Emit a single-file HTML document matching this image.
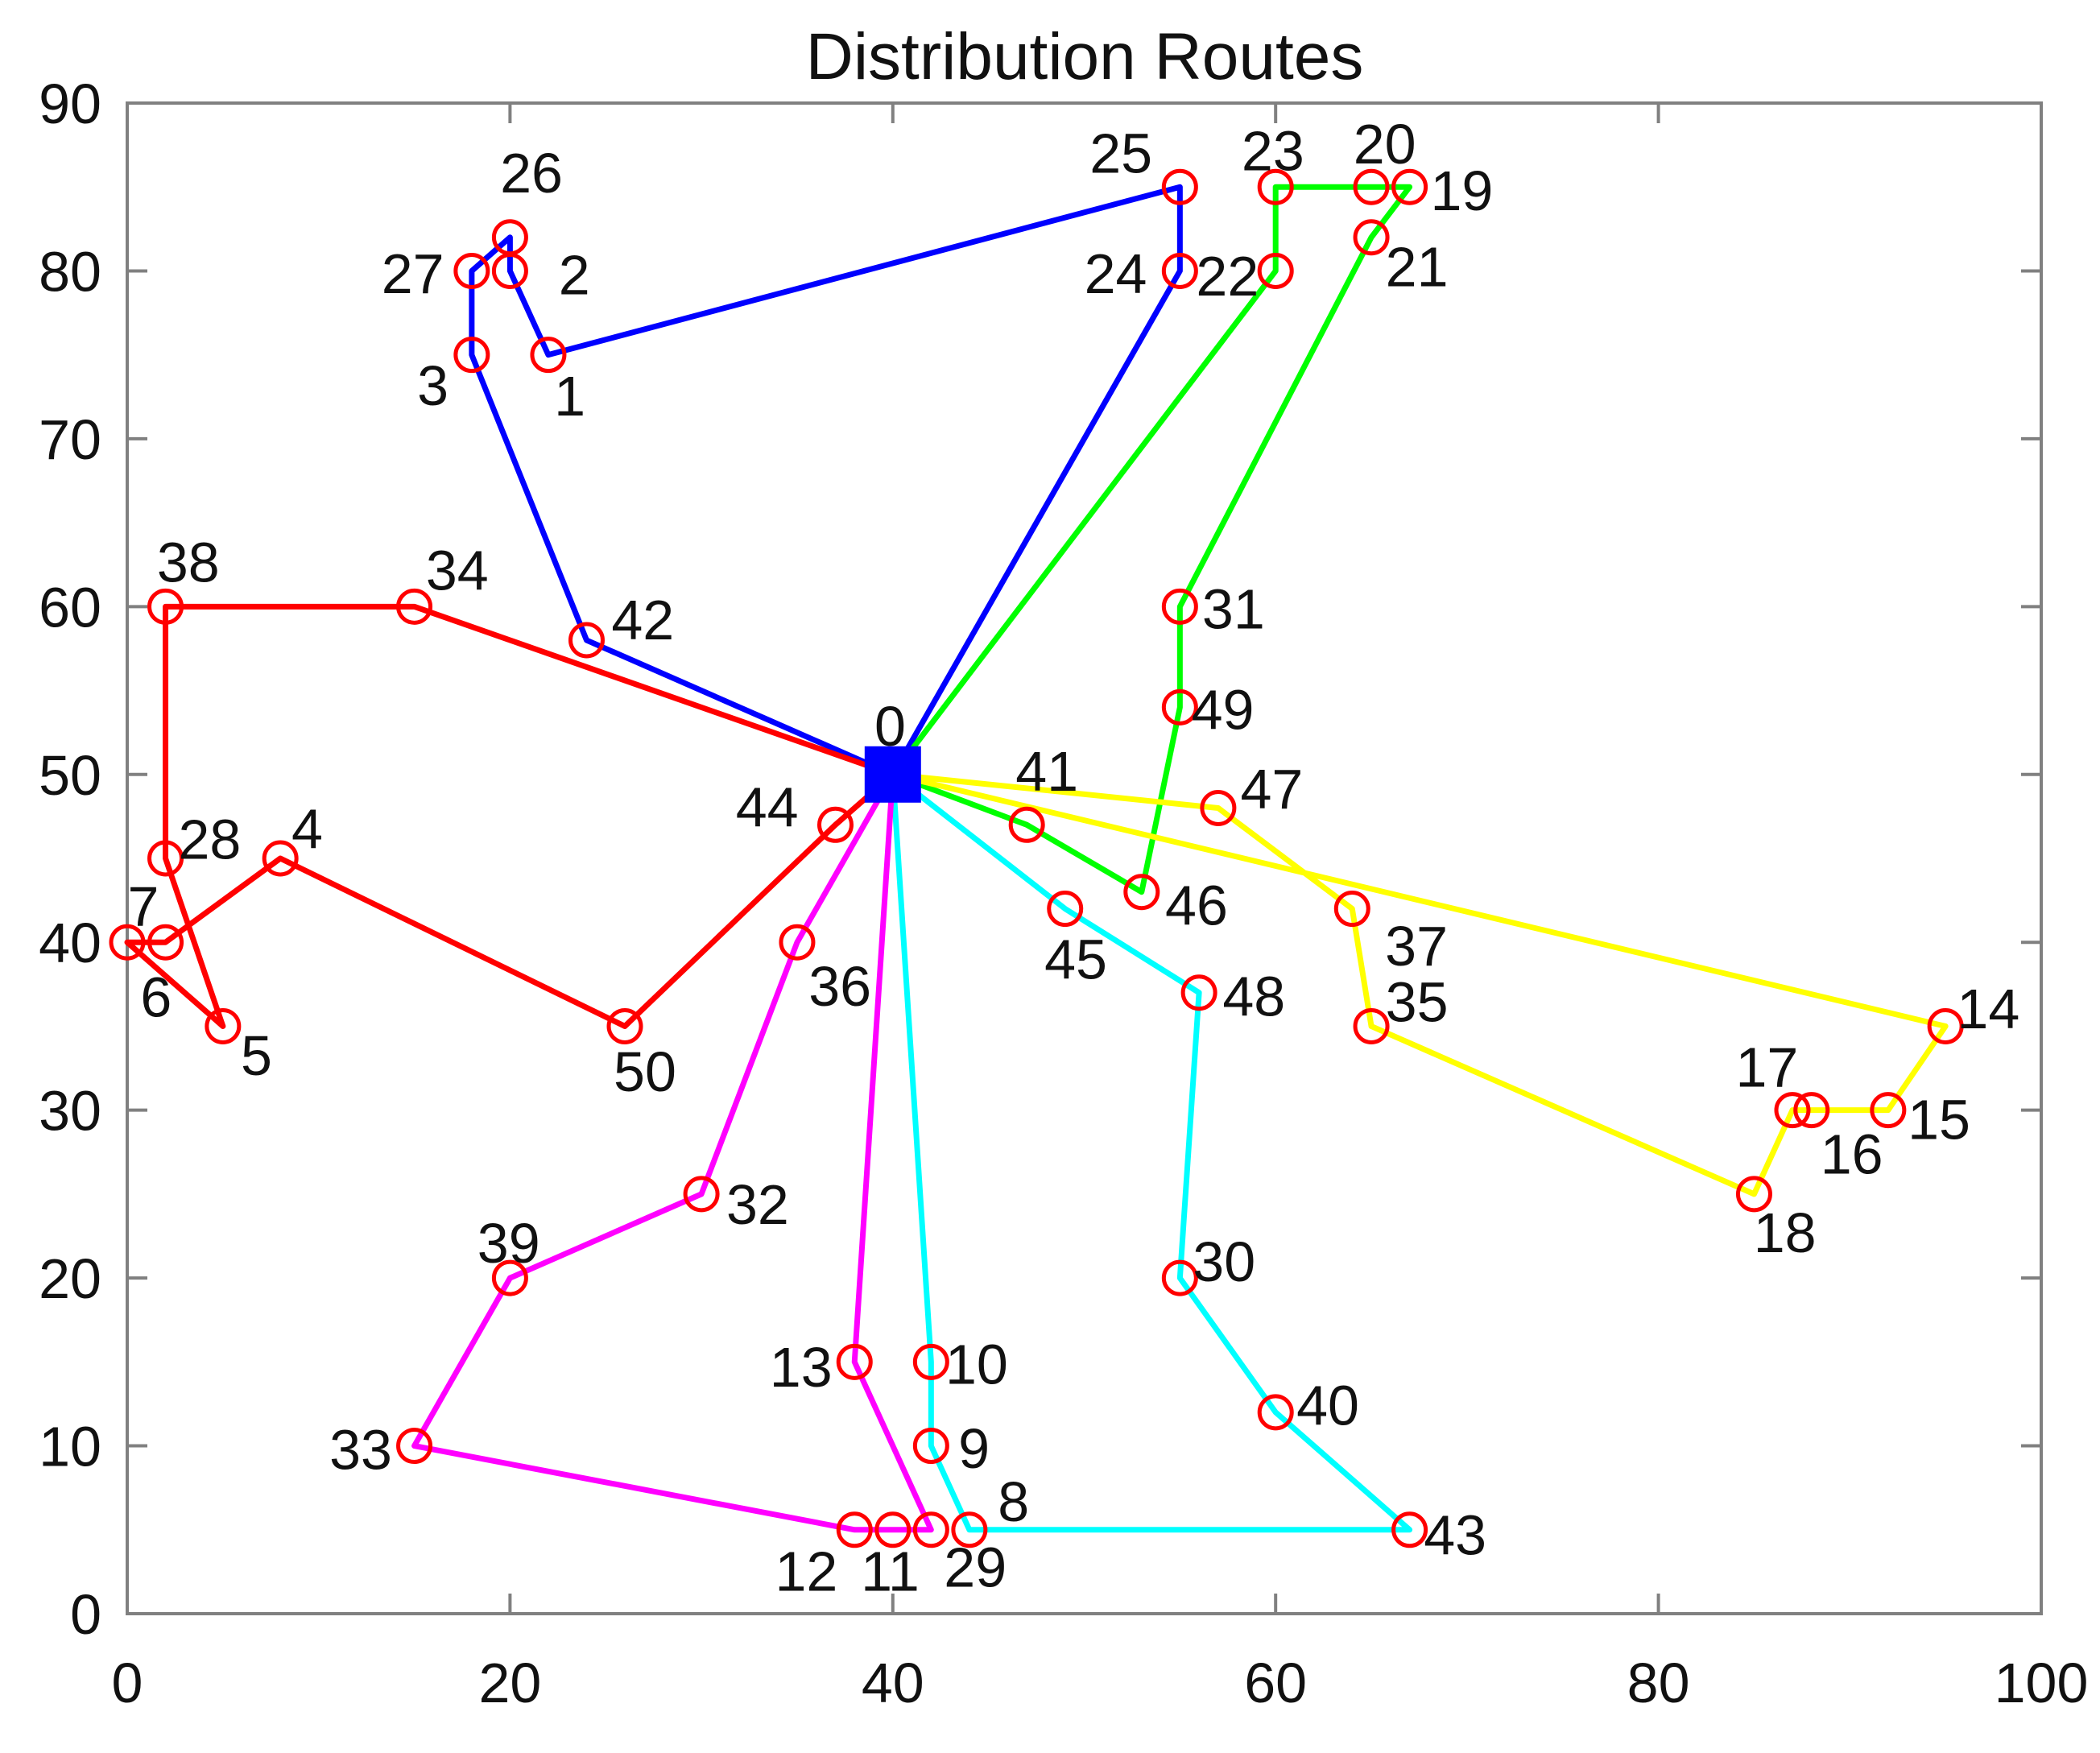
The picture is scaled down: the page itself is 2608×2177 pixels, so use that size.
<!DOCTYPE html>
<html><head><meta charset="utf-8"><style>
html,body{margin:0;padding:0;background:#fff;}
svg{display:block;font-family:"Liberation Sans",Arial,sans-serif;}
</style></head><body>
<svg id="chart" width="2608" height="2177" viewBox="0 0 2608 2177" xmlns="http://www.w3.org/2000/svg">
<rect width="2608" height="2177" fill="#fff"/>
<text x="1347" y="98" font-size="82" text-anchor="middle" fill="#111">Distribution Routes</text>
<g id="axes"></g><g id="routes"></g><g id="nodes"></g>
</svg>
<script>
const nodeIds=[0,1,2,3,4,5,6,7,8,9,10,11,12,13,14,15,16,17,18,19,20,21,22,23,24,25,26,27,28,29,30,31,32,33,34,35,36,37,38,39,40,41,42,43,44,45,46,47,48,49,50];
const nodeX=[40,22,20,18,8,5,2,0,44,42,42,40,38,38,95,92,88,87,85,67,65,65,60,60,55,55,20,18,2,42,55,55,30,15,15,65,35,64,2,20,60,47,24,67,37,49,53,57,56,55,26];
const nodeY=[50,75,80,75,45,35,40,40,5,10,15,5,5,15,35,30,30,30,25,85,85,82,80,85,80,85,82,80,45,5,20,60,25,10,60,35,40,42,60,20,12,47,58,5,47,42,43,48,37,54,35];
const routeBlue=[0,42,3,27,26,2,1,25,24,0];
const routeRed=[0,34,38,28,5,7,6,4,50,44,0];
const routeGreen=[0,22,23,20,19,21,31,49,46,41,0];
const routeYellow=[0,47,37,35,18,17,16,15,14,0];
const routeCyan=[0,45,48,30,40,43,8,9,10,0];
const routeMagenta=[0,36,32,39,33,12,11,29,13,0];
const xTicks=[0,20,40,60,80,100];
const yTicks=[0,10,20,30,40,50,60,70,80,90];
// label offsets (style only, display px)
const labOff=[[-2,-36],[16,31],[48,3],[-29,23],[20,-22],[25,22],[-7,41],[12,-27],[33,-21],[32,2],[34,2],[-2,31],[-36,31],[-40,4],[32,-13],[38,7],[30,33],[-19,-32],[23,29],[39,3],[10,-32],[34,22],[-36,4],[-2,-27],[-48,2],[-44,-25],[16,-48],[-44,2],[33,-14],[33,28],[33,-12],[40,2],[42,8],[-40,3],[32,-27],[34,-18],[32,33],[48,28],[17,-33],[-1,-26],[39,-5],[15,-40],[42,-15],[34,4],[-51,-13],[8,38],[41,10],[40,-14],[41,3],[32,2],[15,34]];

const L=158,R=2535,T=128,B=2004;
const sx=v=>L+(v-0)/(100-0)*(R-L);
const sy=v=>B-(v-0)/(90-0)*(B-T);
const NS="http://www.w3.org/2000/svg";
function mk(tag,attrs,parent){const e=document.createElementNS(NS,tag);for(const k in attrs)e.setAttribute(k,attrs[k]);parent.appendChild(e);return e;}
const axes=document.getElementById('axes');
const frame=mk('rect',{x:L,y:T,width:R-L,height:B-T,fill:'none',stroke:'#808080','stroke-width':4},axes);


xTicks.forEach(t=>{
  const x=sx(t);
  const tk=mk('path',{d:`M${x},${B}V${B-25}M${x},${T}V${T+25}`,stroke:'#808080','stroke-width':4},axes);
  
  
  const lb=mk('text',{x:x,y:2114,'font-size':70,'text-anchor':'middle',fill:'#111'},axes);
  lb.textContent=t;
  
  
});
yTicks.forEach(t=>{
  const y=sy(t);
  const tk=mk('path',{d:`M${L},${y}H${L+25}M${R},${y}H${R-25}`,stroke:'#808080','stroke-width':4},axes);
  
  
  const lb=mk('text',{x:126,y:y+25,'font-size':70,'text-anchor':'end',fill:'#111'},axes);
  lb.textContent=t;
  
  
});
const routesG=document.getElementById('routes');
[[routeBlue,'#0000ff','blue'],[routeRed,'#ff0000','red'],[routeGreen,'#00ff00','green'],[routeYellow,'#ffff00','yellow'],[routeCyan,'#00ffff','cyan'],[routeMagenta,'#ff00ff','magenta']].forEach(([r,c,n])=>{
  const pts=r.map(i=>sx(nodeX[i])+','+sy(nodeY[i])).join(' ');
  const pl=mk('polyline',{points:pts,fill:'none',stroke:c,'stroke-width':7,'stroke-linejoin':'round'},routesG);
  
  
});
const nodesG=document.getElementById('nodes');
nodeIds.forEach((id,i)=>{
  const x=sx(nodeX[i]),y=sy(nodeY[i]);
  if(id!==0){
    const c=mk('circle',{cx:x,cy:y,r:20,fill:'none',stroke:'#ff0000','stroke-width':5},nodesG);
    
    
  }else{
    const s=mk('rect',{x:x-35,y:y-35,width:70,height:70,fill:'#0000ff'},nodesG);
    
    
  }
  const o=labOff[i];
  const t=mk('text',{x:x+o[0]*1.663,y:y+o[1]*1.663,'font-size':70,'text-anchor':'middle','dominant-baseline':'central',fill:'#111'},nodesG);
  t.textContent=id;
  
  
});
</script>
</body></html>
